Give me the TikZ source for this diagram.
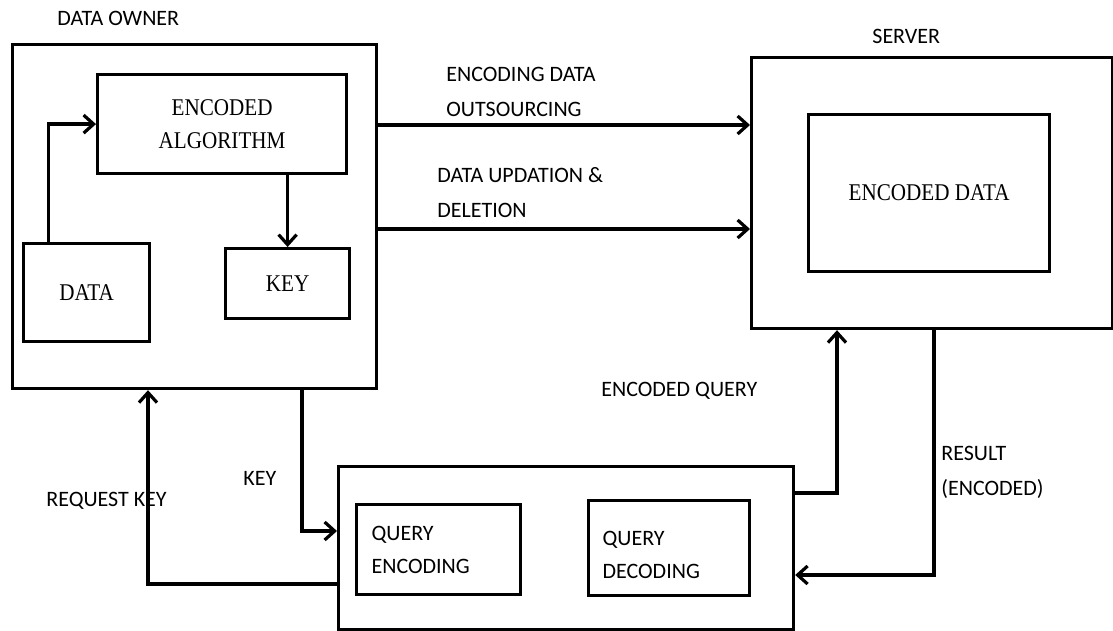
\documentclass[tikz,border=0pt]{standalone}
\usepackage{fontspec}
\setmainfont{Liberation Serif}[FakeStretch=0.88]
\newfontfamily\lblfont{Carlito}
\usetikzlibrary{arrows.meta}

\newcommand{\lowered}[1]{\raisebox{-3.5pt}[\height][\depth]{#1}}

\tikzset{
	box/.style={draw, line width=1.6pt, anchor=north west, inner sep=0pt, align=center, font=\fontsize{12}{16.5}\selectfont},
	qbox/.style={box, align=left, font=\lblfont\fontsize{11}{16.5}\selectfont},
	lbl/.style={anchor=west, inner sep=0pt, align=left, font=\lblfont\fontsize{11}{17.5}\selectfont},
	conn/.style={line width=1.6pt, -{Straight Barb[length=5pt,width=9pt]}},
}

\begin{document}
\begin{tikzpicture}[x=0.5pt, y=-0.5pt]
	\useasboundingbox (0,0) rectangle (1113,631);
	% data owner
	\node[box, minimum width=182pt, minimum height=172pt] (owner) at (11,43) {};
	\node[box, minimum width=124.5pt, minimum height=49.5pt] (alg) at (96,73) {ENCODED\\ALGORITHM};
	\node[box, minimum width=63pt, minimum height=49pt] (data) at (22,242) {DATA};
	\node[box, minimum width=62pt, minimum height=35pt] (key) at (224,247) {KEY};
	\node[lbl] (ownerlbl) at (57,18) {DATA OWNER};
	\draw[conn] ([xshift=-19pt]data.north) |- (alg.west);
	\draw[conn] (alg.south -| key.north) -- (key.north);
	% server
	\node[box, minimum width=180.5pt, minimum height=135.5pt] (server) at (750,56) {};
	\node[box, minimum width=120.5pt, minimum height=78.5pt] (encdata) at (807,113) {ENCODED DATA};
	\node[lbl] (serverlbl) at (872,36) {SERVER};
	% query side
	\node[box, minimum width=227.5pt, minimum height=81.5pt] (query) at (337,465) {};
	\node[qbox, minimum height=45pt, inner xsep=7.5pt, text width=67pt] (qenc) at (355,503) {QUERY\\ENCODING};
	\node[qbox, minimum height=47.5pt, inner xsep=7pt, text width=66.5pt] (qdec) at (587,499) {\lowered{QUERY}\\\lowered{DECODING}};
	% owner to server
	\node[lbl] (outlbl) at (446,91.5) {ENCODING DATA\\OUTSOURCING};
	\node[lbl] (updlbl) at (437,193) {DATA UPDATION \&\\DELETION};
	\draw[conn] (owner.east |- 0,125) -- (server.west |- 0,125);
	\draw[conn] (owner.east |- 0,229) -- (server.west |- 0,229);
	% key exchange
	\node[lbl] (keylbl) at (243,478) {KEY};
	\node[lbl] (reqlbl) at (46,501) {REQUEST KEY};
	\draw[conn] (owner.south -| 302,0) |- (query.west |- 0,531);
	\draw[conn] (query.west |- 0,584) -| (owner.south -| 148,0);
	% query and result
	\node[lbl] (eqlbl) at (601,391) {ENCODED QUERY};
	\node[lbl] (reslbl) at (941,472.5) {RESULT\\(ENCODED)};
	\draw[conn] (query.east |- 0,493) -| (server.south -| 837,0);
	\draw[conn] (server.south -| 934,0) |- (query.east |- 0,575);
\end{tikzpicture}
\end{document}
